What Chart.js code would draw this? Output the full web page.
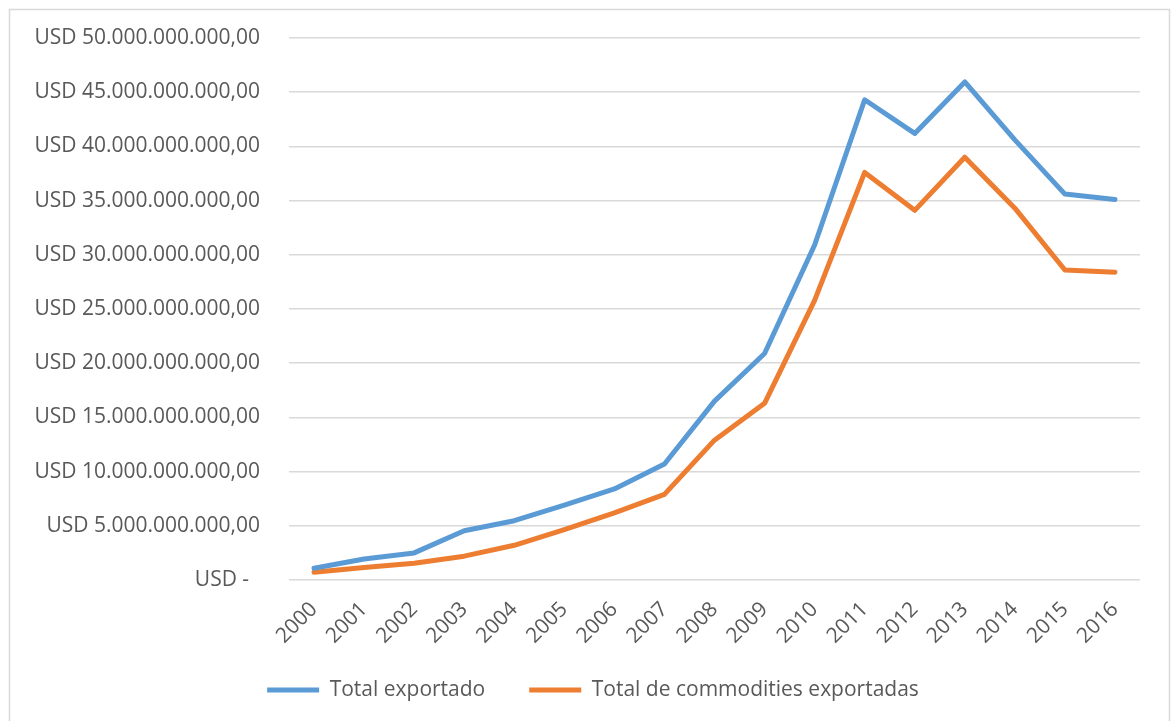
<!DOCTYPE html>
<html>
<head>
<meta charset="utf-8">
<script src="https://cdn.jsdelivr.net/npm/chart.js@4.4.1/dist/chart.umd.min.js"></script>
<style>
  html, body { margin: 0; padding: 0; background: #ffffff; overflow: hidden; }
  #wrap { position: relative; width: 1174px; height: 721px; }
</style>
</head>
<body>
<div id="wrap"><canvas id="chart" width="1174" height="721"></canvas></div>
<script>
// Years on the category axis
const years = ['2000', '2001', '2002', '2003', '2004', '2005', '2006', '2007', '2008',
               '2009', '2010', '2011', '2012', '2013', '2014', '2015', '2016'];

// Total exports per year (USD)
const totalExportado = [1.08e9, 1.94e9, 2.5e9, 4.55e9, 5.47e9, 6.9e9, 8.4e9, 10.7e9, 16.5e9,
                        20.9e9, 30.9e9, 44.3e9, 41.2e9, 45.95e9, 40.6e9, 35.6e9, 35.1e9];

// Commodity exports per year (USD)
const totalCommodities = [0.72e9, 1.15e9, 1.55e9, 2.2e9, 3.2e9, 4.65e9, 6.2e9, 7.9e9, 12.9e9,
                          16.3e9, 25.8e9, 37.6e9, 34.1e9, 39.0e9, 34.3e9, 28.6e9, 28.4e9];

// Value axis range
const yMin = 0;
const yMax = 50e9;
const yStep = 5e9;

const seriesNames = ['Total exportado', 'Total de commodities exportadas'];

const TEXT = '#595959';
const GRID = '#d9d9d9';
const FONT = '"Open Sans", "Noto Sans", sans-serif';

// Formats a number as "USD 45.000.000.000,00" (accounting style, zero shown as a dash)
function usd(v) {
  if (v === 0) return 'USD -  ';
  const parts = v.toFixed(2).split('.');
  const intPart = parts[0].replace(/\B(?=(\d{3})+(?!\d))/g, '.');
  return 'USD ' + intPart + ',' + parts[1];
}

// Light outer frame around the whole chart
const framePlugin = {
  id: 'frame',
  beforeDraw(chart) {
    const ctx = chart.ctx;
    ctx.save();
    ctx.strokeStyle = GRID;
    ctx.lineWidth = 1.5;
    ctx.strokeRect(9.5, 9.5, 1160, 800);
    ctx.restore();
  }
};

// Let the slanted year labels run down past the axis box instead of being clipped
const yearLabelRoom = {
  id: 'yearLabelRoom',
  afterLayout(chart) {
    chart.scales.x.bottom = chart.height;
  }
};

new Chart(document.getElementById('chart'), {
  type: 'line',
  data: {
    labels: years,
    datasets: [
      {
        label: seriesNames[0],
        data: totalExportado,
        borderColor: '#5b9bd5',
        backgroundColor: '#5b9bd5',
        borderWidth: 5,
        borderCapStyle: 'round',
        borderJoinStyle: 'round',
        pointRadius: 0,
        tension: 0
      },
      {
        label: seriesNames[1],
        data: totalCommodities,
        borderColor: '#ed7d31',
        backgroundColor: '#ed7d31',
        borderWidth: 5,
        borderCapStyle: 'round',
        borderJoinStyle: 'round',
        pointRadius: 0,
        tension: 0
      }
    ]
  },
  options: {
    responsive: false,
    animation: false,
    layout: { padding: { top: 38, left: 20, right: 8, bottom: 10.5 } },
    plugins: {
      tooltip: { enabled: false },
      legend: {
        position: 'bottom',
        labels: {
          usePointStyle: true,
          pointStyle: 'line',
          pointStyleWidth: 52,
          padding: 44,
          color: TEXT,
          font: { family: FONT, size: 21 }
        }
      }
    },
    scales: {
      x: {
        offset: true,
        grid: { display: false },
        border: { display: false },
        ticks: {
          color: TEXT,
          font: { family: FONT, size: 21 },
          minRotation: 45,
          maxRotation: 45,
          autoSkip: false,
          padding: 9
        },
        afterFit(scale) { scale.height = 55.5; }
      },
      y: {
        min: yMin,
        max: yMax,
        grid: {
          color: GRID,
          lineWidth: 1.5,
          drawTicks: true,
          tickLength: 29,
          tickColor: 'rgba(0,0,0,0)'
        },
        border: { display: false },
        ticks: {
          stepSize: yStep,
          color: TEXT,
          font: { family: FONT, size: 21 },
          padding: 0,
          callback: (v) => usd(v)
        },
        afterFit(scale) { scale.width = 269; }
      },
      // empty right-hand margin so the plot ends inside the frame
      yRight: {
        position: 'right',
        display: true,
        grid: { display: false },
        border: { display: false },
        ticks: { display: false },
        afterFit(scale) { scale.width = 26; }
      }
    }
  },
  plugins: [framePlugin, yearLabelRoom]
});
</script>
</body>
</html>
